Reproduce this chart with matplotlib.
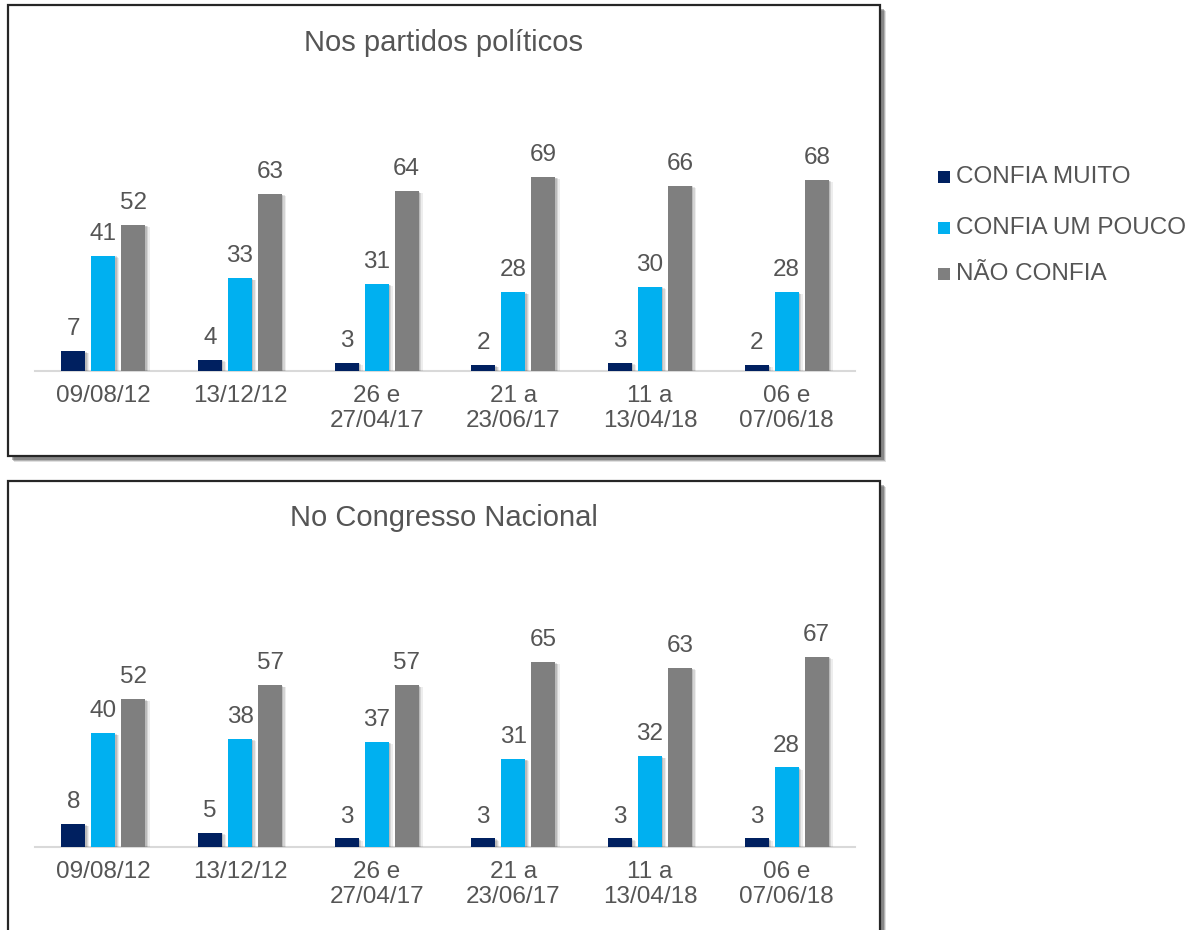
import matplotlib
matplotlib.use("Agg")
import matplotlib.pyplot as plt
import matplotlib.patheffects as pe
from matplotlib.patches import Rectangle
import numpy as np

plt.rcParams['font.family'] = ['Liberation Sans', 'DejaVu Sans']

# ---- data ----
categories = ["09/08/12", "13/12/12", "26 e\n27/04/17", "21 a\n23/06/17", "11 a\n13/04/18", "06 e\n07/06/18"]
series_names = ["CONFIA MUITO", "CONFIA UM POUCO", "NÃO CONFIA"]
series_colors = ["#002060", "#00B0F0", "#7F7F7F"]

partidos_muito = [7, 4, 3, 2, 3, 2]
partidos_pouco = [41, 33, 31, 28, 30, 28]
partidos_nao = [52, 63, 64, 69, 66, 68]

congresso_muito = [8, 5, 3, 3, 3, 3]
congresso_pouco = [40, 38, 37, 31, 32, 28]
congresso_nao = [52, 57, 57, 65, 63, 67]

panel_titles = ["Nos partidos políticos", "No Congresso Nacional"]
panels = [
    [partidos_muito, partidos_pouco, partidos_nao],
    [congresso_muito, congresso_pouco, congresso_nao],
]

TEXT = "#555555"
W, H = 1199, 930
fig = plt.figure(figsize=(W / 100, H / 100), dpi=100)
fig.patch.set_facecolor("white")


def fx(px):
    return px / W


def fy(py):
    return 1 - py / H


# panel boxes (pixel coords: left, top, right, bottom)
boxes = [(8, 5, 880, 456), (8, 481, 880, 945)]
for (l, t, r, b) in boxes:
    for k, a in [(6, 0.15), (5, 0.25), (4, 0.35)]:
        shadow = Rectangle((fx(l + k), fy(b + k)), fx(r - l), (b - t) / H,
                           transform=fig.transFigure, facecolor="#333333",
                           edgecolor="none", alpha=a, zorder=0)
        fig.patches.append(shadow)
    box = Rectangle((fx(l), fy(b)), fx(r - l), (b - t) / H,
                    transform=fig.transFigure, facecolor="white",
                    edgecolor="#262626", linewidth=1.6, zorder=1)
    fig.patches.append(box)

# axes layout: (baseline px, px per unit)
axes_layout = [(371, 2.81), (847, 2.84)]
title_y = [43, 518]
ymax = 100
offsets = [-0.22, 0.0, 0.22]
bw = 0.175
x = np.arange(len(categories))

bar_shadow = [pe.SimplePatchShadow(offset=(1.0, -0.5), shadow_rgbFace="#000000", alpha=0.12),
              pe.SimplePatchShadow(offset=(2.0, -1.0), shadow_rgbFace="#000000", alpha=0.10),
              pe.SimplePatchShadow(offset=(3.0, -1.5), shadow_rgbFace="#000000", alpha=0.07),
              pe.Normal()]

for pi, (vals, (base, ppu)) in enumerate(zip(panels, axes_layout)):
    height_px = ymax * ppu
    ax = fig.add_axes([fx(35), fy(base), fx(820), height_px / H])
    ax.set_facecolor("none")
    ax.set_zorder(2)
    for si, (v, c) in enumerate(zip(vals, series_colors)):
        ax.bar(x + offsets[si], v, width=bw, color=c, zorder=3, path_effects=bar_shadow)
        for xi, val in zip(x + offsets[si], v):
            ax.annotate(str(val), (xi, val), xytext=(0, 11.5), textcoords="offset points",
                        ha="center", va="baseline", fontsize=17.5, color=TEXT)
    ax.set_xlim(-0.5, len(categories) - 0.5)
    ax.set_ylim(0, ymax)
    for s in ["top", "right", "left"]:
        ax.spines[s].set_visible(False)
    ax.spines["bottom"].set_color("#D9D9D9")
    ax.spines["bottom"].set_linewidth(1.5)
    ax.set_yticks([])
    ax.set_xticks(x)
    ax.set_xticklabels(categories, fontsize=17.5, color=TEXT, linespacing=1.2)
    ax.tick_params(axis="x", length=0, pad=10)
    fig.text(fx(444), fy(title_y[pi]), panel_titles[pi], ha="center", va="center",
             fontsize=21, color=TEXT)

# legend
legend_y = [177, 228, 274]
for name, c, ly in zip(series_names, series_colors, legend_y):
    fig.patches.append(Rectangle((fx(938), fy(ly + 6)), fx(12), 12 / H,
                                 transform=fig.transFigure, facecolor=c, edgecolor="none", zorder=3))
    fig.text(fx(956), fy(ly), name, ha="left", va="center", fontsize=17.5, color=TEXT)

fig.savefig("out.png", dpi=100, facecolor="white")
